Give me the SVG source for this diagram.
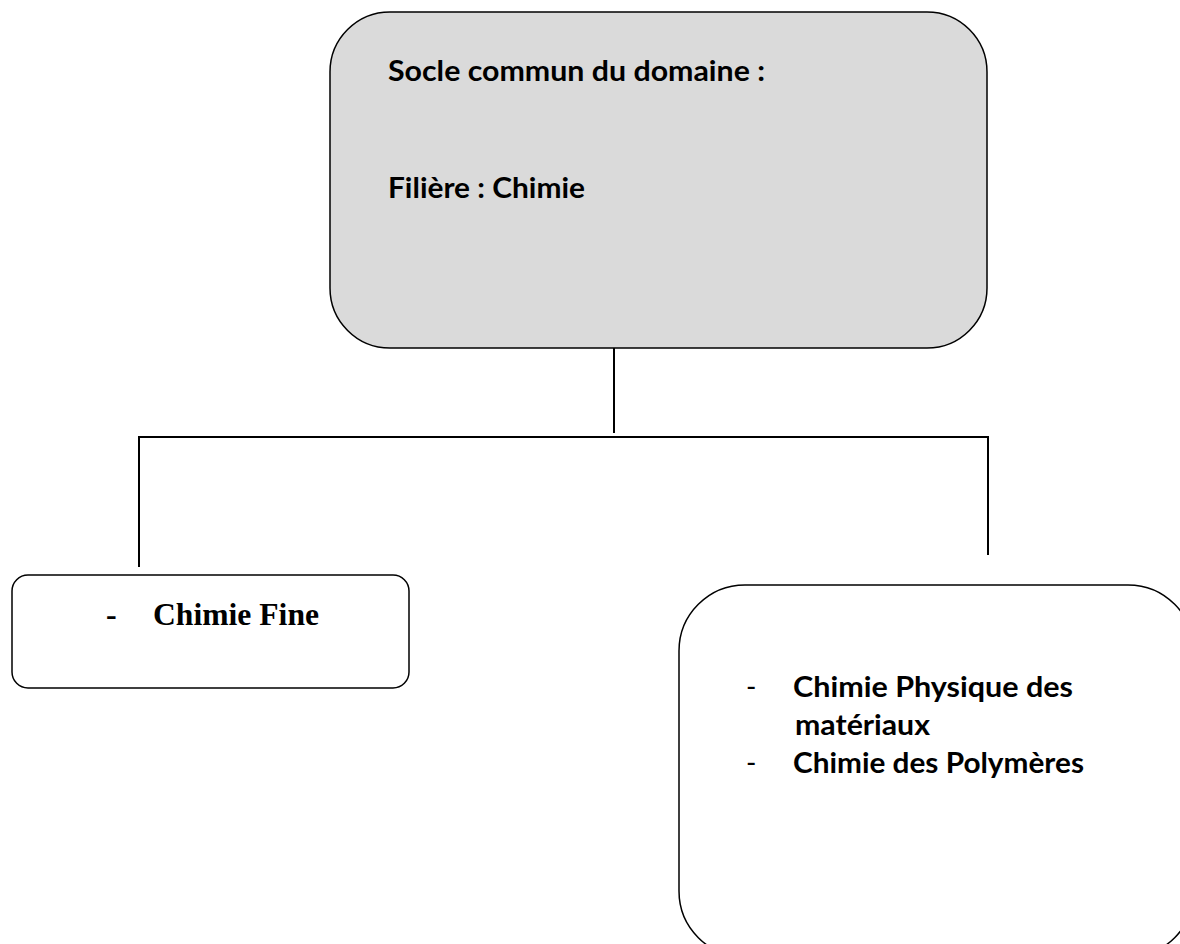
<svg xmlns="http://www.w3.org/2000/svg" width="1180" height="944" viewBox="0 0 1180 944">
<style>
.box{stroke:#000;stroke-width:1.5}
.cal{font-family:Lato,"Open Sans","Liberation Sans",sans-serif;font-weight:bold;font-size:28px;fill:#000}
.dash{font-family:Lato,"Open Sans","Liberation Sans",sans-serif;font-weight:normal;font-size:28px;fill:#000}
.tms{font-family:"Liberation Serif","DejaVu Serif",serif;font-weight:bold;font-size:32px;fill:#000}
.con{stroke:#000;stroke-width:2;fill:none}
</style>
<rect width="1180" height="944" fill="#fff"/>
<g id="connectors">
<line class="con" x1="614" y1="348" x2="614" y2="433"/>
<polyline class="con" points="139,567 139,437 988,437 988,555"/>
</g>
<g id="root">
<rect class="box" x="330" y="12" width="657" height="336" rx="60" ry="60" fill="#dadada"/>
<text class="cal" x="388" y="81" textLength="377" lengthAdjust="spacingAndGlyphs">Socle commun du domaine :</text>
<text class="cal" x="388" y="198" textLength="197" lengthAdjust="spacingAndGlyphs">Filière : Chimie</text>
</g>
<g id="fine">
<rect class="box" x="12" y="575" width="397" height="113" rx="16" ry="16" fill="#fff"/>
<text class="tms" x="106" y="625">-</text>
<text class="tms" x="153" y="625" textLength="166" lengthAdjust="spacingAndGlyphs">Chimie Fine</text>
</g>
<g id="phys">
<rect class="box" x="679" y="585" width="515" height="372" rx="66" ry="66" fill="#fff"/>
<text class="dash" x="746" y="697">-</text>
<text class="cal" x="793" y="697" textLength="280" lengthAdjust="spacingAndGlyphs">Chimie Physique  des</text>
<text class="cal" x="795" y="735" textLength="135" lengthAdjust="spacingAndGlyphs">matériaux</text>
<text class="dash" x="746" y="773">-</text>
<text class="cal" x="793" y="773" textLength="291" lengthAdjust="spacingAndGlyphs">Chimie des Polymères</text>
</g>
</svg>
